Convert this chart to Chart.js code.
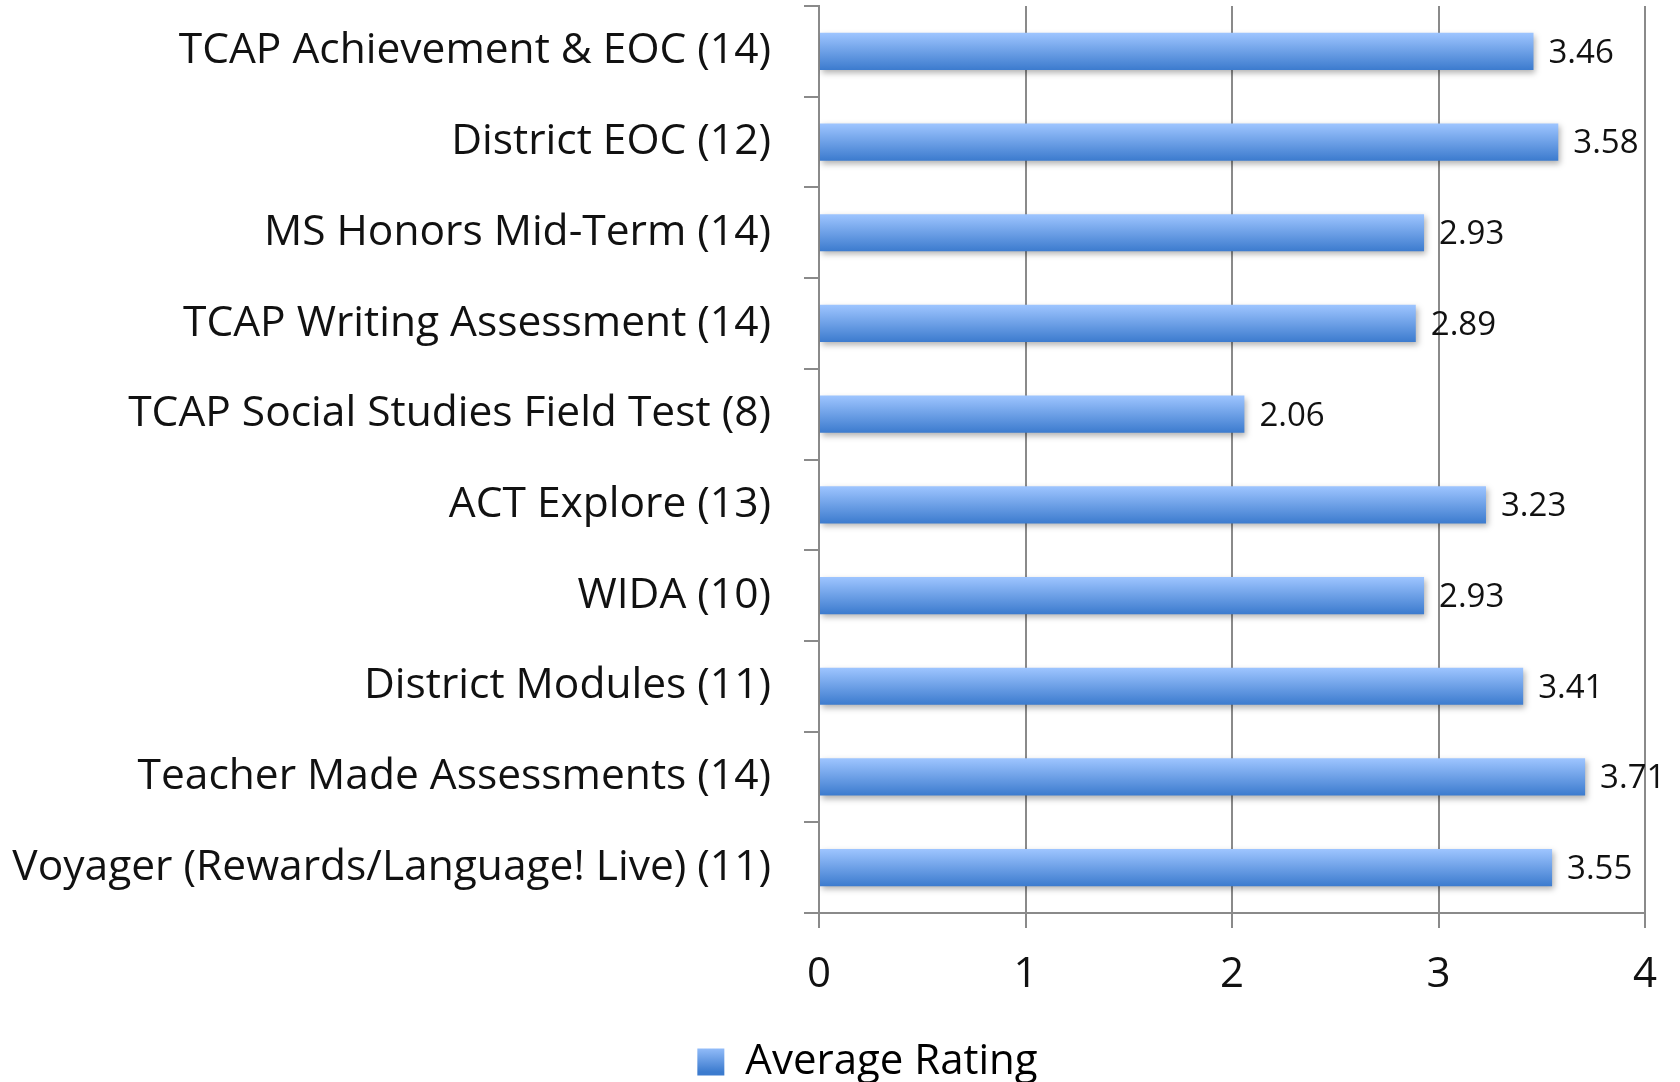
<!DOCTYPE html>
<html>
<head>
<meta charset="utf-8">
<script src="https://cdn.jsdelivr.net/npm/chart.js@4"></script>
<style>
  html, body { margin: 0; padding: 0; background: #fff; }
  #wrap { width: 1680px; height: 1082px; }
</style>
</head>
<body>
<div id="wrap"><canvas id="ratingChart" width="1680" height="1082"></canvas></div>
<script>
// ---- Data ----
const categories = [
  'TCAP Achievement & EOC (14)',
  'District EOC (12)',
  'MS Honors Mid-Term (14)',
  'TCAP Writing Assessment (14)',
  'TCAP Social Studies Field Test (8)',
  'ACT Explore (13)',
  'WIDA (10)',
  'District Modules (11)',
  'Teacher Made Assessments (14)',
  'Voyager (Rewards/Language! Live) (11)'
];
const avgRating = [3.46, 3.58, 2.93, 2.89, 2.06, 3.23, 2.93, 3.41, 3.71, 3.55];
const xTicks = [0, 1, 2, 3, 4];

const FONT = "'Open Sans', Lato, sans-serif";
const GRID = '#8a8a8a';

// vertical gradient for each bar, based on its band on the y scale
function barFill(c) {
  const chart = c.chart;
  const y = chart.scales.y;
  if (!y || c.dataIndex === undefined) return '#6a9be6';
  const center = y.getPixelForValue(c.dataIndex);
  const half = (y.height / categories.length) * 0.41 / 2;
  const g = chart.ctx.createLinearGradient(0, center - half, 0, center + half);
  g.addColorStop(0, '#9ec5ff');
  g.addColorStop(1, '#3c7bce');
  return g;
}

// soft shadow under the bars
const barShadow = {
  id: 'barShadow',
  beforeDatasetsDraw(chart) {
    const ctx = chart.ctx;
    ctx.save();
    ctx.shadowColor = 'rgba(0,0,0,0.30)';
    ctx.shadowBlur = 6;
    ctx.shadowOffsetX = 2;
    ctx.shadowOffsetY = 3;
  },
  afterDatasetsDraw(chart) {
    chart.ctx.restore();
  }
};

// value labels at bar ends
const valueLabels = {
  id: 'valueLabels',
  afterDatasetsDraw(chart) {
    const ctx = chart.ctx;
    const meta = chart.getDatasetMeta(0);
    ctx.save();
    ctx.font = '33px ' + FONT;
    ctx.fillStyle = '#111';
    ctx.textAlign = 'left';
    ctx.textBaseline = 'middle';
    meta.data.forEach((bar, i) => {
      ctx.fillText(avgRating[i].toFixed(2), bar.x + 15, bar.y + 2);
    });
    ctx.restore();
  }
};

// the original legend sits right of centre and slightly cut off at the bottom
const legendShift = {
  id: 'legendShift',
  afterLayout(chart) {
    const lg = chart.legend;
    if (!lg) return;
    lg.left += 45;
    lg.right += 45;
    lg.top += 11;
    lg.bottom += 11;
  }
};

new Chart(document.getElementById('ratingChart'), {
  type: 'bar',
  data: {
    labels: categories,
    datasets: [{
      label: 'Average Rating',
      data: avgRating,
      backgroundColor: barFill,
      borderWidth: 0,
      categoryPercentage: 1,
      barPercentage: 0.41
    }]
  },
  options: {
    indexAxis: 'y',
    responsive: false,
    animation: false,
    layout: { padding: { top: 6, right: 35, left: 0, bottom: 0 } },
    plugins: {
      tooltip: { enabled: false },
      legend: {
        position: 'bottom',
        labels: {
          color: '#111',
          font: { family: FONT, size: 42 },
          boxWidth: 27,
          boxHeight: 27,
          padding: 2,
          generateLabels(chart) {
            const ctx = chart.ctx;
            const g = ctx.createLinearGradient(0, 1045, 0, 1072);
            g.addColorStop(0, '#9ec5ff');
            g.addColorStop(1, '#3c7bce');
            return [{ text: 'Average Rating', fillStyle: g, strokeStyle: g, lineWidth: 0, datasetIndex: 0 }];
          }
        }
      }
    },
    scales: {
      x: {
        min: 0,
        max: 4,
        afterBuildTicks(s) { s.ticks = xTicks.map(v => ({ value: v })); },
        afterFit(s) { s.height = 115; },
        grid: { color: GRID, lineWidth: 2, tickLength: 15, drawTicks: true },
        border: { color: GRID, width: 2 },
        ticks: {
          color: '#111',
          padding: 22,
          font: { family: FONT, size: 42 }
        }
      },
      y: {
        afterFit(s) {
          s.width = 819;
          s.paddingTop = 0;
          s.paddingBottom = 0;
        },
        grid: { offset: true, drawOnChartArea: false, color: GRID, lineWidth: 2, tickLength: 15 },
        border: { color: GRID, width: 2 },
        ticks: {
          color: '#111',
          padding: 33,
          font: { family: FONT, size: 42.5 }
        }
      }
    }
  },
  plugins: [barShadow, valueLabels, legendShift]
});
</script>
</body>
</html>
